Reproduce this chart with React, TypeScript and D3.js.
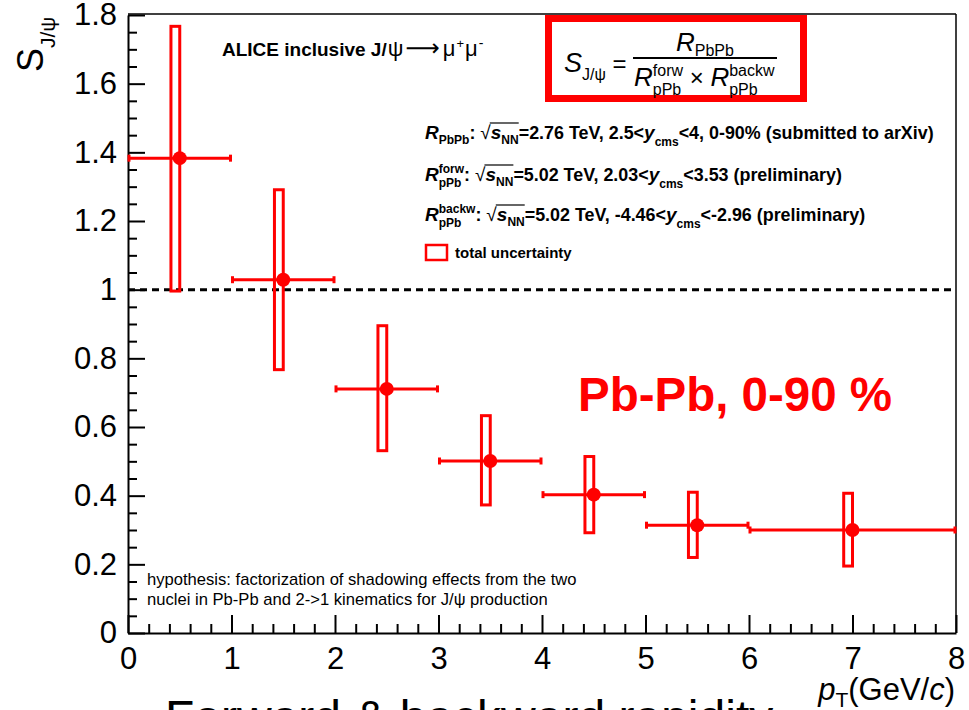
import React, { useEffect, useRef } from 'react';
import * as d3 from 'd3';

// S_J/psi vs pT
const ptCenter = [0.5, 1.5, 2.5, 3.5, 4.5, 5.5, 7];
const ptLow = [0, 1, 2, 3, 4, 5, 6];
const ptHigh = [1, 2, 3, 4, 5, 6, 8];
const sValue = [1.383, 1.029, 0.711, 0.501, 0.403, 0.314, 0.3];
const totLow = [0.996, 0.767, 0.531, 0.373, 0.292, 0.22, 0.195];
const totHigh = [1.767, 1.291, 0.895, 0.633, 0.514, 0.41, 0.407];

const yTicks = [0, 0.2, 0.4, 0.6, 0.8, 1, 1.2, 1.4, 1.6, 1.8];
const xTicks = [0, 1, 2, 3, 4, 5, 6, 7, 8];
const hypothesisLines = [
  'hypothesis: factorization of shadowing effects from the two',
  'nuclei in Pb-Pb and 2->1 kinematics for J/\u03c8 production'
];

const FONT = '"Liberation Sans", Arial, Helvetica, sans-serif';
const RED = '#ff0000';

// lays out a run of text pieces left to right, measuring each one
function rich(g: any, x0: number, y0: number, segs: any[], base: any) {
  let cx = x0;
  let barStart: number | null = null;
  let barEnd = 0;
  const put = (t: string, xx: number, yy: number, s: any) => {
    const el = g.append('text')
      .attr('x', xx)
      .attr('y', yy)
      .attr('fill', base.color || 'black')
      .style('font-family', s.family || FONT)
      .style('font-size', (s.size || base.size) + 'px')
      .style('font-weight', s.bold === undefined ? (base.bold ? 'bold' : 'normal') : (s.bold ? 'bold' : 'normal'))
      .style('font-style', s.italic ? 'italic' : 'normal')
      .style('white-space', 'pre')
      .text(t);
    return el.node().getComputedTextLength();
  };
  segs.forEach((s: any) => {
    let w;
    if (s.stack) {
      const w1 = put(s.stack[0], cx, y0 + (s.supDy || -8), s);
      const w2 = put(s.stack[1], cx, y0 + (s.subDy || 5), s);
      w = Math.max(w1, w2);
    } else {
      w = put(s.t, cx, y0 + (s.dy || 0), s);
    }
    if (s.bar) {
      if (barStart === null) barStart = cx;
      barEnd = cx + w;
    }
    cx += w + (s.gap || 0);
  });
  if (barStart !== null) {
    g.append('line')
      .attr('x1', barStart - 1).attr('x2', barEnd)
      .attr('y1', y0 + base.barDy).attr('y2', y0 + base.barDy)
      .attr('stroke', 'black').attr('stroke-width', 1.2);
  }
  return cx;
}

const App = () => {
  const svgRef = useRef<SVGSVGElement>(null);

  useEffect(() => {
    const width = 969;
    const height = 710;
    const plot = { left: 128, right: 956, top: 15, bottom: 633 };

    const svg = d3.select(svgRef.current);
    svg.selectAll('*').remove();
    svg.attr('viewBox', [0, 0, width, height]).attr('width', width).attr('height', height);

    svg.append('rect').attr('width', width).attr('height', height).attr('fill', 'white');

    const x = d3.scaleLinear().domain([0, 8]).range([plot.left, plot.right]);
    const y = d3.scaleLinear().domain([0, 1.8]).range([plot.bottom, plot.top]);

    const yMinor = d3.range(0, 1.8001, 0.05).filter(v => Math.abs(v / 0.2 - Math.round(v / 0.2)) > 1e-6);
    const xMinor = d3.range(0, 8.001, 0.2).filter(v => Math.abs(v - Math.round(v)) > 1e-6);

    // frame top / right
    svg.append('line')
      .attr('x1', plot.left).attr('x2', plot.right)
      .attr('y1', plot.top - 1).attr('y2', plot.top - 1)
      .attr('stroke', 'black').attr('stroke-width', 1.5);
    svg.append('line')
      .attr('x1', plot.right).attr('x2', plot.right)
      .attr('y1', plot.top - 1).attr('y2', plot.bottom)
      .attr('stroke', 'black').attr('stroke-width', 1.5);

    // y axis
    const yAxis = svg.append('g')
      .attr('transform', `translate(${plot.left},0)`)
      .call(d3.axisLeft(y).tickValues(yTicks).tickSizeInner(-17).tickSizeOuter(0).tickPadding(11)
        .tickFormat(d3.format('~g') as any));
    yAxis.attr('font-family', FONT).attr('font-size', 31);
    yAxis.selectAll('line').attr('stroke-width', 2);
    yAxis.select('.domain').attr('stroke-width', 2);
    svg.append('g')
      .attr('transform', `translate(${plot.left},0)`)
      .call(d3.axisLeft(y).tickValues(yMinor).tickSizeInner(-9).tickSizeOuter(0).tickFormat(() => ''))
      .call(g => g.select('.domain').remove())
      .call(g => g.selectAll('line').attr('stroke-width', 2));

    // x axis
    const xAxis = svg.append('g')
      .attr('transform', `translate(0,${plot.bottom})`)
      .call(d3.axisBottom(x).tickValues(xTicks).tickSizeInner(-18).tickSizeOuter(0).tickPadding(14)
        .tickFormat(d3.format('d') as any));
    xAxis.attr('font-family', FONT).attr('font-size', 31);
    xAxis.selectAll('line').attr('stroke-width', 2);
    xAxis.select('.domain').attr('stroke-width', 2);
    svg.append('g')
      .attr('transform', `translate(0,${plot.bottom})`)
      .call(d3.axisBottom(x).tickValues(xMinor).tickSizeInner(-9).tickSizeOuter(0).tickFormat(() => ''))
      .call(g => g.select('.domain').remove())
      .call(g => g.selectAll('line').attr('stroke-width', 2));

    // y title
    const yt = svg.append('text')
      .attr('transform', 'translate(43,72) rotate(-90)')
      .style('font-family', FONT)
      .style('font-size', '36px');
    yt.append('tspan').text('S');
    yt.append('tspan').attr('dy', 12).style('font-size', '21px').text('J/\u03c8');

    // x title
    const xt = svg.append('text')
      .attr('x', 955).attr('y', 700)
      .attr('text-anchor', 'end')
      .style('font-family', FONT)
      .style('font-size', '31px');
    xt.append('tspan').style('font-style', 'italic').text('p');
    xt.append('tspan').attr('dy', 7).style('font-size', '21px').text('T');
    xt.append('tspan').attr('dy', -7).text('(GeV/');
    xt.append('tspan').style('font-style', 'italic').text('c');
    xt.append('tspan').text(')');

    // reference line at 1
    svg.append('line')
      .attr('x1', x(0)).attr('x2', x(8))
      .attr('y1', y(1)).attr('y2', y(1))
      .attr('stroke', 'black').attr('stroke-width', 3)
      .attr('stroke-dasharray', '7,5');

    const idx = d3.range(ptCenter.length);
    const boxHalf = 0.085;

    // total uncertainty boxes
    svg.append('g').selectAll('rect').data(idx).join('rect')
      .attr('x', i => x(ptCenter[i] - boxHalf))
      .attr('width', x(boxHalf) - x(0))
      .attr('y', i => y(totHigh[i]))
      .attr('height', i => y(totLow[i]) - y(totHigh[i]))
      .attr('fill', 'none').attr('stroke', RED).attr('stroke-width', 3);

    // horizontal bin widths
    const bars = svg.append('g').attr('stroke', RED).attr('stroke-width', 3);
    bars.selectAll('line.h').data(idx).join('line').attr('class', 'h')
      .attr('x1', i => x(ptLow[i])).attr('x2', i => x(ptHigh[i]))
      .attr('y1', i => y(sValue[i])).attr('y2', i => y(sValue[i]));
    bars.selectAll('line.cl').data(idx).join('line').attr('class', 'cl')
      .attr('x1', i => x(ptLow[i]) + 1).attr('x2', i => x(ptLow[i]) + 1)
      .attr('y1', i => y(sValue[i]) - 3.5).attr('y2', i => y(sValue[i]) + 3.5);
    bars.selectAll('line.cr').data(idx).join('line').attr('class', 'cr')
      .attr('x1', i => x(ptHigh[i]) - 1).attr('x2', i => x(ptHigh[i]) - 1)
      .attr('y1', i => y(sValue[i]) - 3.5).attr('y2', i => y(sValue[i]) + 3.5);

    svg.append('g').selectAll('circle').data(idx).join('circle')
      .attr('cx', i => x(ptCenter[i]))
      .attr('cy', i => y(sValue[i]))
      .attr('r', 7)
      .attr('fill', RED);

    // ALICE label
    rich(svg.append('g'), 222, 56, [
      { t: 'ALICE inclusive J/', bold: true, gap: 1 },
      { t: '\u03c8', size: 22, gap: 2 },
      { t: '\u27f6', family: '"DejaVu Sans", sans-serif', size: 24, gap: 3 },
      { t: '\u03bc', size: 22, gap: 1 },
      { t: '+', size: 13, dy: -8, gap: 1 },
      { t: '\u03bc', size: 22, gap: 1 },
      { t: '-', size: 14, dy: -8 }
    ], { size: 19 });

    // formula box
    svg.append('rect')
      .attr('x', 548.5).attr('y', 18.5)
      .attr('width', 255).attr('height', 80)
      .attr('fill', 'white').attr('stroke', RED).attr('stroke-width', 7);
    const fm = svg.append('g');
    rich(fm, 564, 72, [
      { t: 'S', italic: true, size: 27 },
      { t: 'J/\u03c8', size: 16, dy: 8 },
      { t: ' = ', size: 24 }
    ], { size: 24 });
    fm.append('line')
      .attr('x1', 633).attr('x2', 777).attr('y1', 58).attr('y2', 58)
      .attr('stroke', 'black').attr('stroke-width', 2);
    rich(fm, 676, 51, [
      { t: 'R', italic: true, size: 26 },
      { t: 'PbPb', size: 16, dy: 5 }
    ], { size: 24 });
    rich(fm, 634, 86, [
      { t: 'R', italic: true, size: 26 },
      { t: '', size: 16, stack: ['forw', 'pPb'], supDy: -10, subDy: 9 },
      { t: ' \u00d7 ', size: 24 },
      { t: 'R', italic: true, size: 26 },
      { t: '', size: 16, stack: ['backw', 'pPb'], supDy: -10, subDy: 9 }
    ], { size: 24 });

    // legend lines
    const lg = svg.append('g');
    const sqrtPart = [
      { t: '\u221a', bold: false, size: 19 },
      { t: 's', italic: true, size: 19, bar: true },
      { t: 'NN', size: 12, dy: 5, bar: true }
    ];
    const lgBase = { size: 17.9, bold: true, barDy: -16 };
    rich(lg, 425, 139, [
      { t: 'R', italic: true, size: 19 },
      { t: 'PbPb', size: 12, dy: 5 },
      { t: ': ' },
      ...sqrtPart,
      { t: '=2.76 TeV, 2.5<' },
      { t: 'y', italic: true, size: 19 },
      { t: 'cms', size: 12, dy: 7 },
      { t: '<4, 0-90% (submitted to arXiv)' }
    ], lgBase);
    rich(lg, 425, 181, [
      { t: 'R', italic: true, size: 19 },
      { t: '', size: 12, stack: ['forw', 'pPb'], supDy: -8, subDy: 6 },
      { t: ': ' },
      ...sqrtPart,
      { t: '=5.02 TeV, 2.03<' },
      { t: 'y', italic: true, size: 19 },
      { t: 'cms', size: 12, dy: 7 },
      { t: '<3.53 (preliminary)' }
    ], lgBase);
    rich(lg, 425, 221, [
      { t: 'R', italic: true, size: 19 },
      { t: '', size: 12, stack: ['backw', 'pPb'], supDy: -8, subDy: 6 },
      { t: ': ' },
      ...sqrtPart,
      { t: '=5.02 TeV, -4.46<' },
      { t: 'y', italic: true, size: 19 },
      { t: 'cms', size: 12, dy: 7 },
      { t: '<-2.96 (preliminary)' }
    ], lgBase);
    lg.append('rect')
      .attr('x', 426).attr('y', 245).attr('width', 21).attr('height', 15)
      .attr('fill', 'none').attr('stroke', RED).attr('stroke-width', 2.5);
    lg.append('text')
      .attr('x', 455).attr('y', 258)
      .style('font-family', FONT).style('font-size', '15px').style('font-weight', 'bold')
      .text('total uncertainty');

    // system label
    svg.append('text')
      .attr('x', 578).attr('y', 411)
      .attr('fill', RED)
      .style('font-family', FONT).style('font-size', '47.5px').style('font-weight', 'bold')
      .text('Pb-Pb, 0-90 %');

    // hypothesis
    svg.append('g').selectAll('text').data(hypothesisLines).join('text')
      .attr('x', 147).attr('y', (d, i) => 585 + i * 20)
      .style('font-family', FONT).style('font-size', '16.6px')
      .text(d => d);

    // slide title, cut off at the bottom
    svg.append('text')
      .attr('x', 165).attr('y', 734)
      .style('font-family', FONT).style('font-size', '48px')
      .text('Forward & backward rapidity');
  }, []);

  return (
    <svg ref={svgRef} style={{ position: 'absolute', left: 0, top: 0, display: 'block' }}></svg>
  );
};

export default App;
